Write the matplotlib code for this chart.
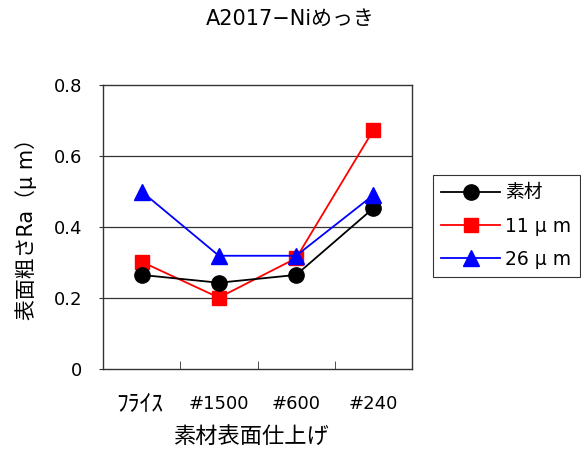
import matplotlib
matplotlib.use("Agg")
import matplotlib.pyplot as plt
import matplotlib.transforms as mtransforms
import numpy as np

plt.rcParams['font.family'] = ['DejaVu Sans', 'Noto Sans CJK JP']

categories = ['ﾌﾗｲｽ', '#1500', '#600', '#240']
series_names = ['素材', '11 μ m', '26 μ m']
vals_base = [0.265, 0.243, 0.265, 0.453]
vals_11 = [0.302, 0.201, 0.312, 0.673]
vals_26 = [0.500, 0.319, 0.319, 0.490]
yticks = [0, 0.2, 0.4, 0.6, 0.8]
ytick_labels = ['0', '0.2', '0.4', '0.6', '0.8']

fig = plt.figure(figsize=(5.81, 4.54), dpi=100)
ax = fig.add_axes([103/581, 1-369/454, (412-103)/581, (369-85)/454])

x = np.arange(len(categories))
ax.plot(x, vals_base, color='black', marker='o', markersize=11, lw=1.3, label=series_names[0], zorder=5)
ax.plot(x, vals_11, color='#ff0000', marker='s', markersize=10.5, lw=1.3, label=series_names[1], zorder=4)
ax.plot(x, vals_26, color='#0000ff', marker='^', markersize=12, lw=1.3, label=series_names[2], zorder=6)

ax.set_xlim(-0.5, 3.5)
ax.set_ylim(0, 0.8)
ax.set_yticks(yticks)
ax.set_yticklabels(ytick_labels, fontsize=13)
for yv in yticks[1:-1]:
    ax.axhline(yv, color='#333333', lw=0.9, zorder=1)

ax.set_xticks(x)
ax.set_xticklabels(categories, fontsize=13)
ax.tick_params(axis='x', which='major', length=0, pad=19)
lbl0 = ax.get_xticklabels()[0]
lbl0.set_fontsize(17)
lbl0.set_transform(lbl0.get_transform() + mtransforms.ScaledTranslation(-2/100, 3/100, fig.dpi_scale_trans))
ax.set_xticks([0.5, 1.5, 2.5], minor=True)
ax.tick_params(axis='x', which='minor', direction='in', length=6, color='#333333')
ax.tick_params(axis='y', direction='out', length=3, pad=12, color='#333333')
for s in ax.spines.values():
    s.set_color('#333333')
    s.set_linewidth(1.0)

ax.set_xlabel('素材表面仕上げ', fontsize=16)
ax.xaxis.set_label_coords(0.48, -(426-369)/284)
ax.set_ylabel('表面粗さRa（μ m）', fontsize=15)
ax.yaxis.set_label_coords((37-103)/309, 0.51)
fig.text(290/581, 1-19/454, 'A2017−Niめっき', ha='center', va='center', fontsize=15)

leg = ax.legend(loc='upper left', bbox_to_anchor=(433/581, 1-175/454), bbox_transform=fig.transFigure,
                fontsize=13.5, frameon=True, fancybox=False, edgecolor='black',
                handlelength=3.1, borderpad=0.45, labelspacing=0.75, handletextpad=0.3, borderaxespad=0)
leg.get_frame().set_linewidth(0.8)

fig.savefig('out.png', dpi=100)
